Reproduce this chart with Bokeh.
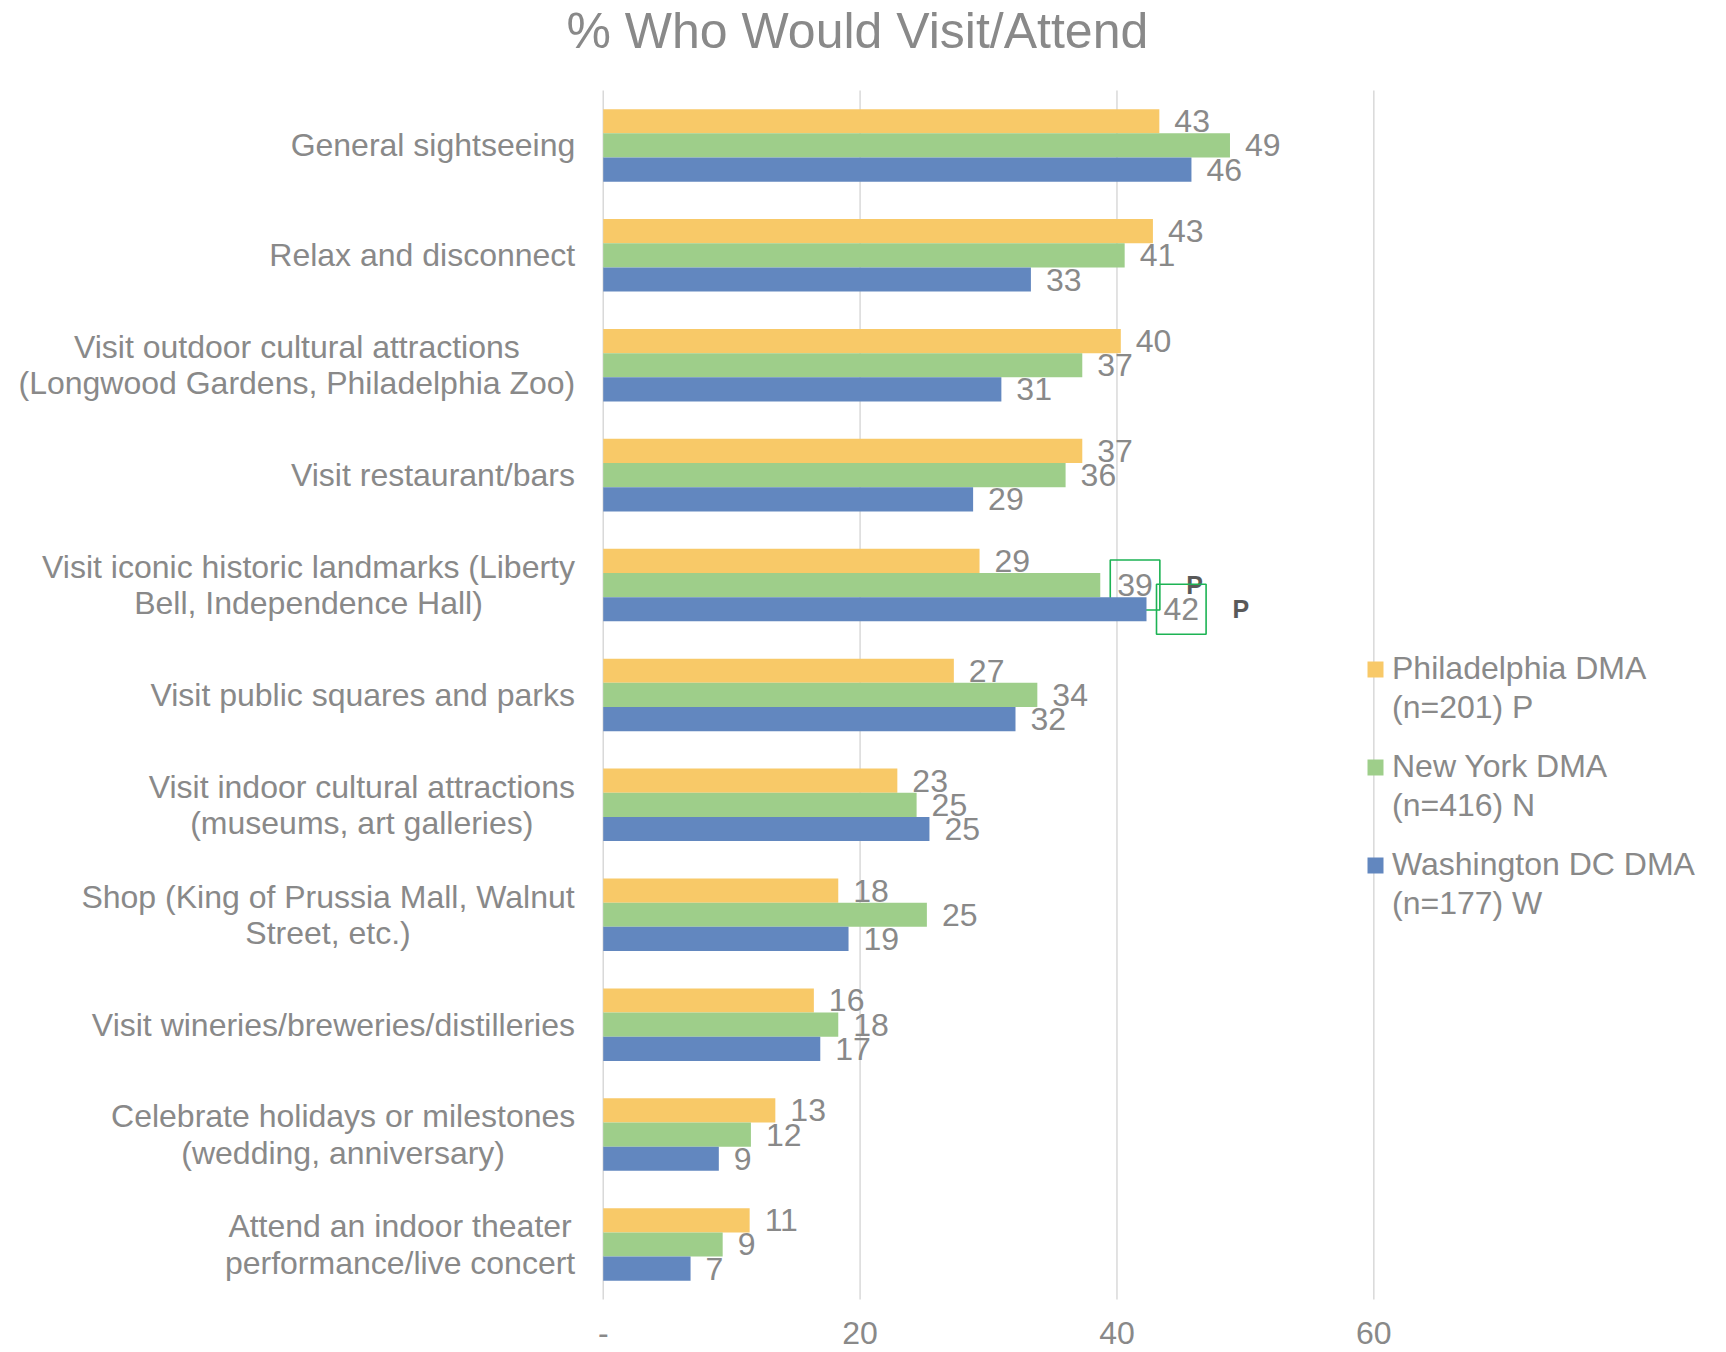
from bokeh.plotting import figure
from bokeh.models import ColumnDataSource, Range1d, Legend, LegendItem
from bokeh.core.properties import value
from bokeh.embed import file_html
from bokeh.resources import INLINE

# ---------------- data ----------------
title = "% Who Would Visit/Attend"
categories = [
    "General sightseeing",
    "Relax and disconnect",
    "Visit outdoor cultural attractions\n(Longwood Gardens, Philadelphia Zoo)",
    "Visit restaurant/bars",
    "Visit iconic historic landmarks (Liberty\nBell, Independence Hall)",
    "Visit public squares and parks",
    "Visit indoor cultural attractions\n(museums, art galleries)",
    "Shop (King of Prussia Mall, Walnut\nStreet, etc.)",
    "Visit wineries/breweries/distilleries",
    "Celebrate holidays or milestones\n(wedding, anniversary)",
    "Attend an indoor theater\nperformance/live concert",
]
series_names = ["Philadelphia DMA", "New York DMA", "Washington DC DMA"]
series_notes = ["(n=201) P", "(n=416) N", "(n=177) W"]
phila = [43.3, 42.8, 40.3, 37.3, 29.3, 27.3, 22.9, 18.3, 16.4, 13.4, 11.4]
ny = [48.8, 40.6, 37.3, 36.0, 38.7, 33.8, 24.4, 25.2, 18.3, 11.5, 9.3]
dc = [45.8, 33.3, 31.0, 28.8, 42.3, 32.1, 25.4, 19.1, 16.9, 9.0, 6.8]
phila_lbl = ["43", "43", "40", "37", "29", "27", "23", "18", "16", "13", "11"]
ny_lbl = ["49", "41", "37", "36", "39", "34", "25", "25", "18", "12", "9"]
dc_lbl = ["46", "33", "31", "29", "42", "32", "25", "19", "17", "9", "7"]
phila_sig = [""] * 11
ny_sig = ["", "", "", "", "P", "", "", "", "", "", ""]
dc_sig = ["", "", "", "", "P", "", "", "", "", "", ""]
x_ticks = [0, 20, 40, 60]
x_tick_labels = ["-", "20", "40", "60"]

# ---------------- style ----------------
colors = ["#F8C968", "#9ECE8A", "#6287BF"]
TXT = "#898989"
FONT = "Liberation Sans"
FS = 32
BOX = "#1DB354"

# Arial / Liberation Sans advance widths (1/1000 em) for label centring
W = {" ": 278, "(": 333, ")": 333, ",": 278, ".": 278, "/": 278, "-": 333}
W.update(dict(zip("abcdefghijklmnopqrstuvwxyz",
                  [556, 556, 500, 556, 556, 278, 556, 556, 222, 222, 500, 222, 833,
                   556, 556, 556, 556, 333, 500, 278, 556, 500, 722, 500, 500, 500])))
W.update(dict(zip("ABCDEFGHIJKLMNOPQRSTUVWXYZ",
                  [667, 667, 722, 722, 667, 611, 778, 722, 278, 500, 667, 556, 833,
                   722, 778, 667, 778, 722, 667, 611, 722, 667, 944, 667, 667, 611])))


def text_width(s, size):
    return max(sum(W.get(c, 556) for c in line) for line in s.split("\n")) * size / 1000.0


n = len(categories)
ypos = [n - 1 - k for k in range(n)]
BAR_H = 0.22
offsets = [BAR_H, 0.0, -BAR_H]

p = figure(width=1726, height=1352,
           x_range=Range1d(-46.93, 87.46), y_range=Range1d(-0.983, n - 0.5 + 0.291),
           x_axis_location=None, y_axis_location=None,
           output_backend="svg", toolbar_location=None, title=title,
           min_border=0, min_border_top=58)
p.grid.visible = False
p.outline_line_color = None
p.title.text_font = FONT
p.title.text_font_size = "50px"
p.title.text_font_style = "normal"
p.title.text_color = TXT
p.title.align = "left"
p.title.offset = 566
p.title.standoff = 0

# gridlines from tick values
p.segment(x0=x_ticks, x1=x_ticks, y0=[-0.5] * len(x_ticks), y1=[n - 0.5] * len(x_ticks),
          line_color="#D9D9D9", line_width=1.5)

# x tick labels
p.text(x=x_ticks, y=[-0.81] * len(x_ticks), text=x_tick_labels,
       text_font=value(FONT), text_font_size=f"{FS}px", text_color=TXT,
       text_align="center", text_baseline="middle")

# category labels (block right-aligned, lines centred)
cat_src = ColumnDataSource(dict(
    x=[0] * n, y=ypos, text=categories,
    xo=[-28 - text_width(c, FS) / 2 for c in categories]))
p.text(x="x", y="y", text="text", x_offset="xo", source=cat_src,
       text_font=value(FONT), text_font_size=f"{FS}px", text_color=TXT,
       text_align="center", text_baseline="middle", text_line_height=1.01)

series = [(phila, phila_lbl, phila_sig), (ny, ny_lbl, ny_sig), (dc, dc_lbl, dc_sig)]
bar_renderers = []
for (vals, lbls, sigs), off, col in zip(series, offsets, colors):
    ys = [y + off for y in ypos]
    r = p.hbar(y=ys, left=0, right=vals, height=BAR_H, fill_color=col, line_color=None)
    bar_renderers.append(r)
    plain = [i for i in range(n) if not sigs[i]]
    boxed = [i for i in range(n) if sigs[i]]
    p.text(x=[vals[i] for i in plain], y=[ys[i] for i in plain], text=[lbls[i] for i in plain],
           x_offset=15, text_font=value(FONT), text_font_size=f"{FS}px", text_color=TXT,
           text_align="left", text_baseline="middle")
    if boxed:
        p.text(x=[vals[i] for i in boxed], y=[ys[i] for i in boxed], text=[lbls[i] for i in boxed],
               x_offset=10, text_font=value(FONT), text_font_size=f"{FS}px", text_color=TXT,
               text_align="left", text_baseline="middle",
               padding=dict(left=7, right=7, top=14, bottom=14),
               border_line_color=BOX, border_line_width=1.6)
        p.text(x=[vals[i] for i in boxed], y=[ys[i] for i in boxed], text=[sigs[i] for i in boxed],
               x_offset=86, text_font=value(FONT), text_font_size="25px", text_color="#595959",
               text_font_style="bold", text_align="left", text_baseline="middle")

# legend: one block per series, glyph beside the first line
blank = p.hbar(y=[], left=[], right=[], height=0.1, fill_alpha=0, line_alpha=0)
for k, (r, name, note) in enumerate(zip(bar_renderers, series_names, series_notes)):
    lg = Legend(items=[LegendItem(label=name, renderers=[r]),
                       LegendItem(label=note, renderers=[blank])],
                location=(1365, 626 - 98 * k), orientation="vertical",
                padding=0, margin=0, spacing=2, border_line_color=None,
                background_fill_alpha=0, glyph_width=20, glyph_height=20,
                label_standoff=7, label_text_font=FONT, label_text_font_size=f"{FS}px",
                label_text_color=TXT)
    p.add_layout(lg)

open("out.html", "w").write(file_html(p, INLINE))
